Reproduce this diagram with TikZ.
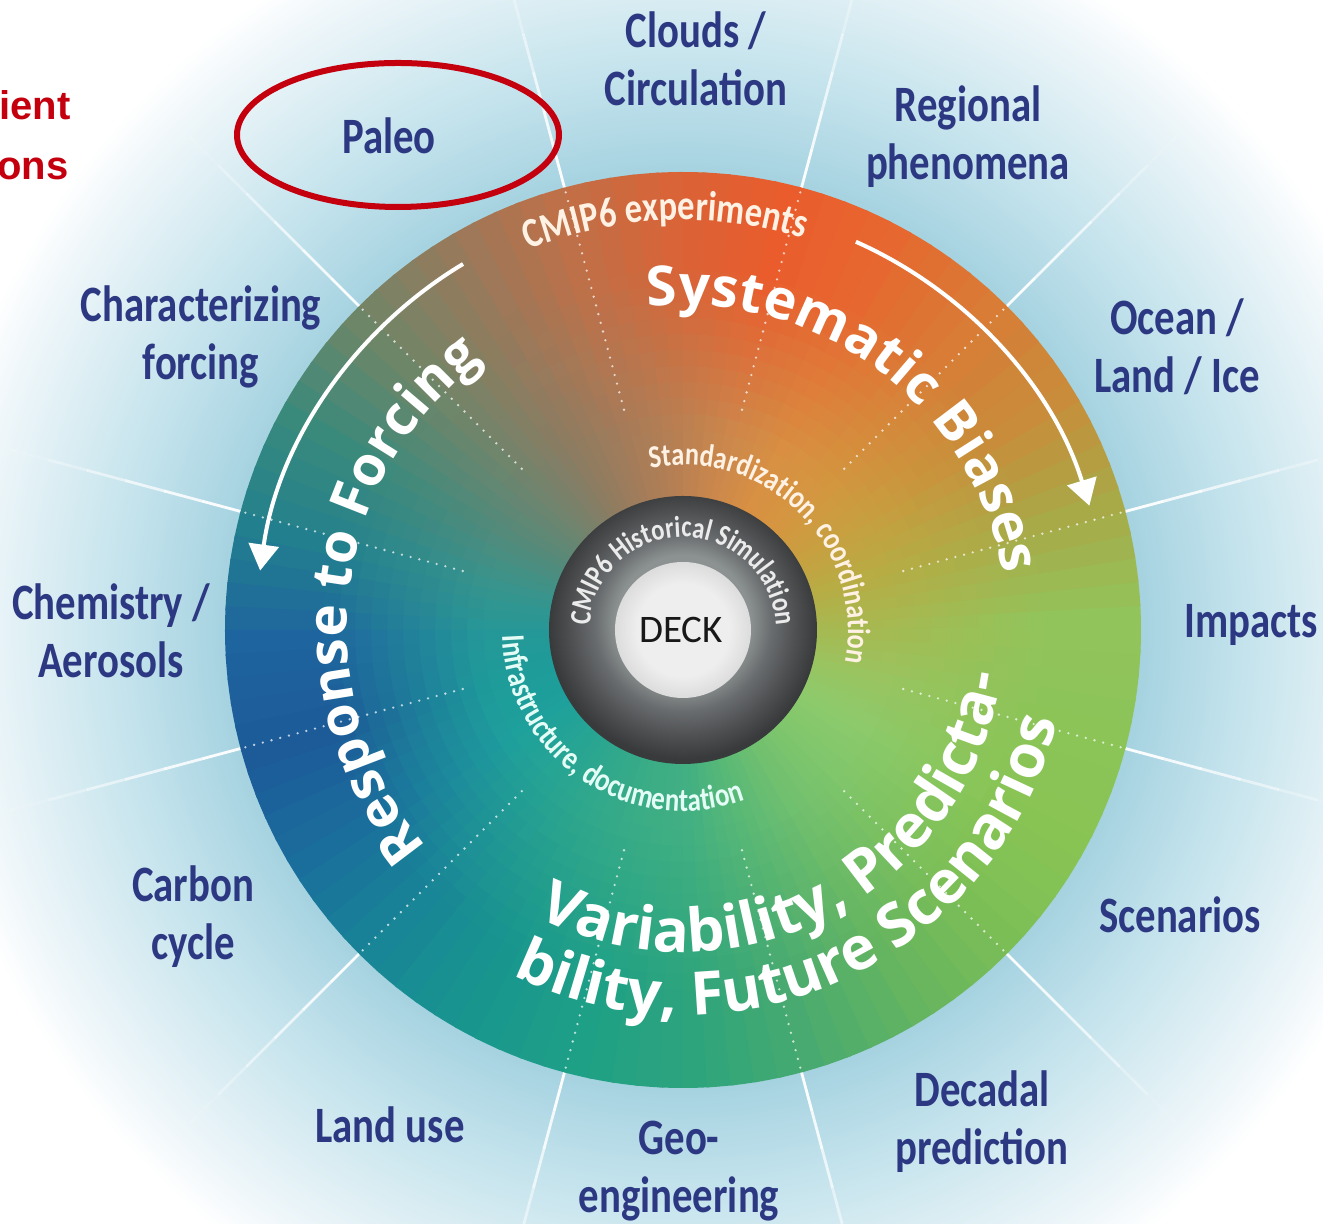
\documentclass[tikz,border=0pt]{standalone}
\usepackage{fontspec}
\setmainfont{Carlito}
\newfontfamily\labelfont[FakeStretch=0.8]{Carlito}
\newfontfamily\ringfont[FakeStretch=0.82]{Carlito}
\newfontfamily\bigfont{Open Sans}
\newfontfamily\redfont{Liberation Sans}
\usetikzlibrary{decorations.text,arrows.meta}

% outer colour keys of the wheel, every 15 degrees
\definecolor{K0}{RGB}{146,196,92}
\definecolor{K1}{RGB}{168,170,72}
\definecolor{K2}{RGB}{200,140,58}
\definecolor{K3}{RGB}{216,124,54}
\definecolor{K4}{RGB}{230,104,48}
\definecolor{K5}{RGB}{234,92,44}
\definecolor{K6}{RGB}{216,100,56}
\definecolor{K7}{RGB}{190,112,72}
\definecolor{K8}{RGB}{150,122,92}
\definecolor{K9}{RGB}{110,134,104}
\definecolor{K10}{RGB}{58,138,124}
\definecolor{K11}{RGB}{34,128,142}
\definecolor{K12}{RGB}{30,100,158}
\definecolor{K13}{RGB}{28,90,152}
\definecolor{K14}{RGB}{26,110,156}
\definecolor{K15}{RGB}{24,134,150}
\definecolor{K16}{RGB}{24,150,142}
\definecolor{K17}{RGB}{30,160,134}
\definecolor{K18}{RGB}{46,164,124}
\definecolor{K19}{RGB}{72,170,112}
\definecolor{K20}{RGB}{100,180,96}
\definecolor{K21}{RGB}{124,190,86}
\definecolor{K22}{RGB}{136,196,84}
\definecolor{K23}{RGB}{140,196,88}
% inner colour keys
\definecolor{I0}{RGB}{168,184,80}
\definecolor{I1}{RGB}{184,172,68}
\definecolor{I2}{RGB}{200,160,64}
\definecolor{I3}{RGB}{212,150,64}
\definecolor{I4}{RGB}{216,144,66}
\definecolor{I5}{RGB}{204,136,76}
\definecolor{I6}{RGB}{184,128,82}
\definecolor{I7}{RGB}{164,124,90}
\definecolor{I8}{RGB}{140,124,98}
\definecolor{I9}{RGB}{112,132,110}
\definecolor{I10}{RGB}{84,138,122}
\definecolor{I11}{RGB}{56,148,140}
\definecolor{I12}{RGB}{36,152,152}
\definecolor{I13}{RGB}{30,156,154}
\definecolor{I14}{RGB}{30,160,156}
\definecolor{I15}{RGB}{38,164,148}
\definecolor{I16}{RGB}{48,168,140}
\definecolor{I17}{RGB}{58,172,134}
\definecolor{I18}{RGB}{66,176,130}
\definecolor{I19}{RGB}{88,184,118}
\definecolor{I20}{RGB}{112,192,112}
\definecolor{I21}{RGB}{128,198,108}
\definecolor{I22}{RGB}{140,202,108}
\definecolor{I23}{RGB}{154,196,96}

\definecolor{hz1}{RGB}{165,210,224}
\definecolor{hz2}{RGB}{192,225,235}
\definecolor{hz3}{RGB}{218,237,243}
\definecolor{hz4}{RGB}{240,247,250}
\definecolor{rg1}{RGB}{140,146,146}
\definecolor{rg2}{RGB}{105,108,110}
\definecolor{rg3}{RGB}{78,80,82}
\definecolor{rg4}{RGB}{56,58,60}
\definecolor{dk1}{RGB}{238,238,238}
\definecolor{dk2}{RGB}{220,220,220}
\definecolor{labcol}{RGB}{45,56,130}
\definecolor{redcol}{RGB}{196,0,14}
\definecolor{creamw}{RGB}{255,242,228}
\definecolor{cyanw}{RGB}{228,252,246}

\pgfdeclareradialshading{haze}{\pgfpoint{0bp}{0bp}}{color(0bp)=(hz1); color(15bp)=(hz1); color(18bp)=(hz2); color(21bp)=(hz3); color(23.5bp)=(hz4); color(25bp)=(white); color(50bp)=(white)}
\pgfdeclareradialshading{ringshade}{\pgfpoint{0bp}{2bp}}{color(0bp)=(rg1); color(12.5bp)=(rg1); color(16.5bp)=(rg2); color(21bp)=(rg3); color(25bp)=(rg4); color(50bp)=(rg4)}
\pgfdeclareradialshading{deckshade}{\pgfpoint{0bp}{0bp}}{color(0bp)=(dk1); color(17bp)=(dk1); color(25bp)=(dk2); color(50bp)=(dk2)}

\newcommand\labsty{\labelfont\bfseries\fontsize{25.5}{29}\selectfont}
\newcommand\bigsty{\bigfont\bfseries\fontsize{27.5}{30}\selectfont\color{white}}
\newcommand\botsty{\bigfont\bfseries\fontsize{30}{32}\selectfont\color{white}}
\newcommand\expsty{\ringfont\bfseries\fontsize{21}{23}\selectfont\color{creamw}}
\newcommand\stdsty{\ringfont\bfseries\fontsize{16}{18}\selectfont\color{creamw}}
\newcommand\infsty{\ringfont\bfseries\fontsize{16.5}{19}\selectfont\color{cyanw}}
\newcommand\histsty{\ringfont\bfseries\fontsize{15}{17}\selectfont\color{white!92!black}}

\tikzset{
  lab/.style={font=\labsty, text=labcol, align=center, inner sep=0pt},
  redtxt/.style={font=\redfont\bfseries\fontsize{20}{24}\selectfont, text=redcol, inner sep=0pt},
  dotline/.style={white, opacity=0.7, line width=1.3pt, line cap=round, dash pattern=on 0pt off 4.5pt},
  bentarrow/.style={white, line width=2pt, -{Triangle[length=13pt,width=15pt]}},
  ringtext/.style={decorate, decoration={text along path, text align=center, text={#1}}}
}

\begin{document}
\begin{tikzpicture}[x=0.5pt,y=0.5pt]
\path[use as bounding box] (-683,-594) rectangle (640,630);
\begin{scope}
\clip (-683,-594) rectangle (640,630);
\fill[white] (-683,-594) rectangle (640,630);
% soft blue halo behind the wheel
\shade[shading=haze] (0,0) circle[radius=760];
% white spokes between the outer themes
\foreach \a in {15,45,...,345}{
  \foreach \s/\o in {0/0.95,1/0.85,2/0.7,3/0.5,4/0.3,5/0.12}{
    \pgfmathsetmacro\ra{456+40*\s}
    \pgfmathsetmacro\rb{\ra+41}
    \draw[white, opacity=\o, line width=1.4pt] (\a:\ra) -- (\a:\rb);
  }
}
\end{scope}

% colour wheel: angular gradient, blended from inner to outer keys
\foreach \k in {0,...,23}{%
  \pgfmathtruncatemacro\kk{mod(\k+1,24)}%
  \foreach \j in {0,...,4}{%
    \pgfmathtruncatemacro\p{100-20*\j}%
    \pgfmathsetmacro\ta{15*\k+3*\j}%
    \pgfmathsetmacro\tb{\ta+3.5}%
    \colorlet{oc}{K\k!\p!K\kk}%
    \colorlet{ic}{I\k!\p!I\kk}%
    \fill[ic] (0,0) -- (\ta:203) arc[start angle=\ta,end angle=\tb,radius=203] -- cycle;
    \foreach \b in {0,...,9}{%
      \pgfmathsetmacro\ri{200+16*\b}%
      \pgfmathsetmacro\ro{\ri+19}%
      \pgfmathtruncatemacro\t{100-10*\b-5}%
      \colorlet{bc}{ic!\t!oc}%
      \fill[bc] (\ta:\ri) -- (\ta:\ro) arc[start angle=\ta,end angle=\tb,radius=\ro] -- (\tb:\ri) arc[start angle=\tb,end angle=\ta,radius=\ri] -- cycle;
    }%
    \fill[oc] (\ta:360) -- (\ta:458) arc[start angle=\ta,end angle=\tb,radius=458] -- (\tb:360) arc[start angle=\tb,end angle=\ta,radius=360] -- cycle;
  }%
}

% dotted sector boundaries inside the wheel
\foreach \a in {15,45,...,345}{
  \draw[dotline] (\a:228) -- (\a:454);
}

% curved arrows
\coordinate (lA) at (121:427);
\coordinate (rA) at (66:425);
\draw[bentarrow] (lA) arc[start angle=121, end angle=172, radius=427];
\draw[bentarrow] (rA) arc[start angle=66, end angle=17, radius=425];

% big sector titles
\path[ringtext={|\bigsty|Systematic Biases}] (123:325) arc[start angle=123, end angle=-17, radius=325];
\path[ringtext={|\bigsty|Response to Forcing}] (253.5:336) arc[start angle=253.5, end angle=93.5, radius=336];
\path[ringtext={|\botsty|Variability, Predicta-}] (207.5:322) arc[start angle=207.5, end angle=387.5, radius=322];
\path[ringtext={|\botsty|bility, Future Scenarios}] (205:385) arc[start angle=205, end angle=385, radius=385];
\path[ringtext={|\expsty|CMIP6 experiments}] (137.5:410) arc[start angle=137.5, end angle=47.5, radius=410];
\path[ringtext={|\stdsty|Standardization, coordination}] (150:165) arc[start angle=150, end angle=-60, radius=165];
\path[ringtext={|\infsty|Infrastructure, documentation}] (131:181) arc[start angle=131, end angle=341, radius=181];

% historical simulation ring and DECK core
\shade[shading=ringshade] (0,0) circle[radius=134];
\path[ringtext={|\histsty|CMIP6 Historical Simulation}] (240:93) arc[start angle=240, end angle=-60, radius=93];
\shade[shading=deckshade] (0,0) circle[radius=68];
\node[font=\fontsize{19.5}{22}\selectfont, text={rgb,255:red,24;green,24;blue,24}, inner sep=0pt] (deck) at (-2,0) {DECK};

% outer themes
\node[lab] (clouds) at (13,571) {Clouds /\\Circulation};
\node[lab] (regional) at (285,493) {Regional\\phenomena};
\node[lab] (ocean) at (494,283) {Ocean /\\Land / Ice};
\node[lab] (impacts) at (568,5) {Impacts};
\node[lab] (scen) at (497,-285) {Scenarios};
\node[lab] (decadal) at (299,-492) {Decadal\\prediction};
\node[lab] (geo) at (-4,-541) {Geo-\\engineering};
\node[lab] (landuse) at (-293,-495) {Land use};
\node[lab] (carbon) at (-490,-287) {Carbon\\cycle};
\node[lab] (chem) at (-572,-1) {Chemistry /\\Aerosols};
\node[lab] (charf) at (-482,293) {Characterizing\\forcing};
\node[lab] (paleo) at (-294,494) {Paleo};

% highlight ring and side note
\draw[redcol, line width=3pt] (paleo) ++(9,1) ellipse[x radius=161, y radius=72];
\node[redtxt, anchor=base west] (note1) at (-684,510) {ient};
\node[redtxt, anchor=base west] (note2) at (-686,450) {ons};
\end{tikzpicture}
\end{document}
